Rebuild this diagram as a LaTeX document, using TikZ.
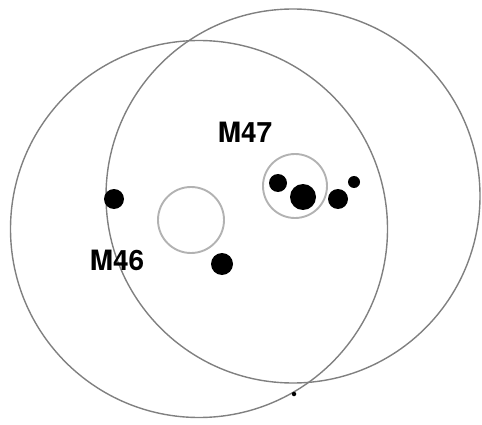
\documentclass[tikz,border=0pt]{standalone}
\usepackage{fontspec}
\setmainfont{TeX Gyre Heros}
\tikzset{
  halo/.style={draw=black!50, line width=1.4pt},
  core/.style={draw=black!30, line width=1.9pt},
  dot/.style={circle, fill=black, inner sep=0pt, minimum size=#1},
  lbl/.style={inner sep=0pt, font=\fontsize{28}{30}\selectfont\bfseries}
}
\begin{document}
\begin{tikzpicture}[x=1pt,y=-1pt]
    \useasboundingbox (0,0) rectangle (482,425);
    % the two big halos
    \draw[halo] (199,229) circle (188.5pt);
    \draw[halo] (293,196) circle (187pt);
    % cores
    \draw[core] (191,220) circle (33pt);
    \draw[core] (295,186) circle (32pt);
    % stars of M47
    \node[dot=18pt] (s1) at (278,183) {};
    \node[dot=26pt] (s2) at (303,197) {};
    \node[dot=20pt] (s3) at (338,199) {};
    \node[dot=12pt] (s4) at (354,182) {};
    % stars of M46
    \node[dot=22pt] (s5) at (222,264) {};
    \node[dot=20pt] (s6) at (114,199) {};
    \node[dot=4.5pt] (s7) at (294,394) {};
    % labels
    \node[lbl] (m47) at (245,132) {M47};
    \node[lbl] (m46) at (117,260) {M46};
\end{tikzpicture}
\end{document}
